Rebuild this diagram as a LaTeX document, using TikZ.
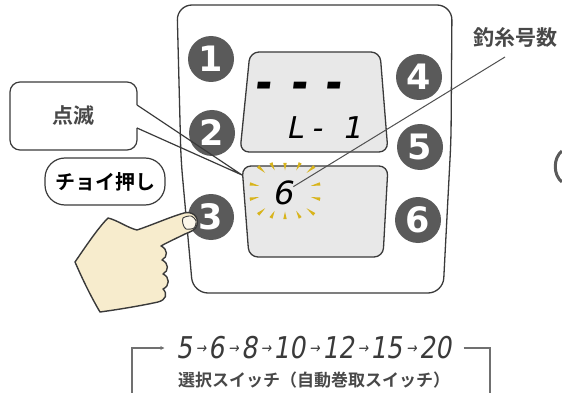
\documentclass[tikz,border=0pt]{standalone}
\usepackage{fontspec}
\usepackage{graphicx}
\usetikzlibrary{calc,arrows.meta}
\setmainfont{DejaVu Sans}
\newfontfamily\jpheavy{Noto Sans CJK JP Bold}
\newfontfamily\segfont[FakeSlant=0.2]{DejaVu Sans}
\newcommand\segarrow{\hspace{4pt}\raisebox{5.5pt}{\fontsize{15}{15}\selectfont →}\hspace{3pt}}
\newcommand\segdash{\scalebox{1}[1.7]{–}}

\definecolor{ink}{HTML}{3A3A3A}
\definecolor{softink}{HTML}{484848}
\definecolor{keygray}{HTML}{5A5A5A}
\definecolor{lcdgray}{HTML}{E8E8E8}
\definecolor{skin}{HTML}{F7ECCD}
\definecolor{nailtone}{HTML}{FCF7EA}
\definecolor{raygold}{HTML}{D8B41C}
\definecolor{leadgray}{HTML}{505050}
\definecolor{bracketgray}{HTML}{707070}

\begin{document}
\begin{tikzpicture}[x=1pt,y=-1pt,
  panel/.style={draw=ink,line width=1.3pt,fill=white,rounded corners=15pt},
  lcd/.style={draw=ink,line width=1.3pt,fill=lcdgray,rounded corners=9pt},
  key/.style={circle,fill=keygray,minimum size=46pt,inner sep=0pt,text=white,
    font=\fontsize{35}{35}\selectfont\bfseries},
  ray/.style={fill=raygold},
  lcdtxt/.style={inner sep=0pt,text=black,font=\segfont\fontsize{30}{30}\selectfont},
  leader/.style={draw=leadgray,line width=1pt},
  callout/.style={draw=ink,line width=1.2pt},
  calltext/.style={inner sep=0pt,text=softink,font=\jpheavy\fontsize{21}{21}\selectfont},
  pill/.style={draw=ink,line width=1.2pt,fill=white,rounded corners=20pt,
    minimum width=120pt,minimum height=47pt,inner sep=0pt,
    font=\jpheavy\fontsize{20}{20}\selectfont},
  hand/.style={draw=ink,line width=1.4pt,fill=skin,line join=round},
  nail/.style={draw=ink,line width=0.9pt,fill=nailtone},
  seqtxt/.style={inner ysep=0pt,inner xsep=12pt,text=ink,font=\segfont\fontsize{30}{30}\selectfont},
  captxt/.style={inner sep=0pt,text=softink,font=\jpheavy\fontsize{17}{17}\selectfont},
  bracket/.style={draw=bracketgray,line width=1.1pt}
]
\useasboundingbox (0,0) rectangle (562,393);

% control panel body
\draw[panel] (177,5) -- (452,5) -- (451,140) -- (443,293) -- (193,293) -- (181,160) -- cycle;

% the two display windows
\draw[lcd] (250,52) -- (380,52) -- (388,152) -- (240,152) -- cycle;
\draw[lcd] (242,166) -- (388,166) -- (383,257) -- (249,257) -- cycle;

% numbered keys
\node[key] (key1) at (211,59) {1};
\node[key] (key2) at (212,133) {2};
\node[key] (key3) at (211,217) {3};
\node[key] (key4) at (419,77) {4};
\node[key] (key5) at (420,147) {5};
\node[key] (key6) at (418,220) {6};

% display readings
\node[lcdtxt,anchor=base west,font=\segfont\bfseries\fontsize{32}{32}\selectfont]
  (dashes) at (254,101) {\segdash\hspace{20pt}\segdash\hspace{18pt}\segdash};
\node[lcdtxt,anchor=base west] (lrow) at (286,139) {L\hspace{9pt}-\hspace{20pt}1};
\node[lcdtxt,font=\segfont\fontsize{32}{32}\selectfont] (lcdsix) at (283,193) {6};

% blinking marks around the size reading
\coordinate (flash) at (285,191);
\foreach \px/\py in {262/170,273/167,285/167,298/167,310/170,
                     262/211,273/214,285/215,298/214,310/211,
                     255/185,255/198,315/185,315/198}{
  \coordinate (fo) at ($(flash)!1.17!(\px,\py)$);
  \coordinate (fi) at ($(flash)!0.86!(\px,\py)$);
  \fill[ray] (fi) -- ($(fo)!1.7pt!90:(fi)$) -- ($(fo)!1.7pt!-90:(fi)$) -- cycle;
}

% line size label and its leader
\node[calltext] (tag) at (515,37) {釣糸号数};
\coordinate (tagfoot) at (505,57);
\draw[leader] (tagfoot) -- (lcdsix);

% "blinking" speech bubble
\node[calltext] (blink) at (73,115) {点滅};
\coordinate (blinktip) at (242,175);
\draw[callout,rounded corners=10pt] (137,128) -- (137,150) -- (10,150) -- (10,82) -- (137,82) -- (137,105);
\draw[callout,line join=miter] (137,105) -- (blinktip) -- (137,128);

% "short press" label
\node[pill] (tap) at (105,181.5) {チョイ押し};

% pressing hand
\draw[hand] (75,262) .. controls (86,246) and (98,228) .. (108,218)
  .. controls (117,220) and (128,228) .. (137,230)
  .. controls (152,225) and (170,217) .. (184,213)
  .. controls (192,211) and (199,216) .. (197,225)
  .. controls (196,230) and (190,232) .. (185,234)
  .. controls (177,238) and (168,242) .. (161,246)
  .. controls (168,249) and (168,257) .. (162,260)
  .. controls (169,263) and (169,271) .. (163,274)
  .. controls (170,277) and (170,286) .. (163,289)
  .. controls (168,294) and (166,300) .. (158,302)
  .. controls (140,306) and (115,310) .. (100,312)
  .. controls (90,295) and (82,278) .. (75,262) -- cycle;
\draw[nail] plot[smooth cycle] coordinates {(183,218) (191,216) (196,221) (194,228) (186,229) (183,224)};

% edge of the next control, cut off at the border
\draw[draw=keygray,line width=3pt] (562,151) .. controls (553,158) and (553,175) .. (562,182);

% selector sequence with its loop bracket
\node[seqtxt] (seq) at (314,348) {\scalebox{0.84}[1]{5\segarrow 6\segarrow 8\segarrow 10\segarrow 12\segarrow 15\segarrow 20}};
\node[captxt] (caption) at (314,380) {選択スイッチ（自動巻取スイッチ）};
\coordinate (brL) at (132,393);
\coordinate (brR) at (490,393);
\draw[bracket,-{Stealth[length=4pt,width=4pt]}] (brL) |- (seq.west);
\draw[bracket] (seq.east) -| (brR);
\end{tikzpicture}
\end{document}
